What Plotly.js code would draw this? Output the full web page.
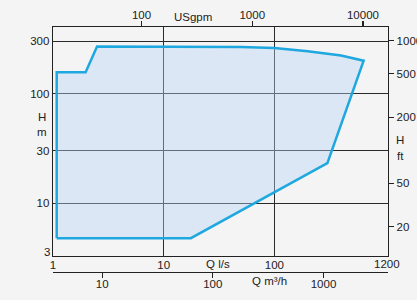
<!DOCTYPE html>
<html>
<head>
<meta charset="utf-8">
<script src="https://cdn.plot.ly/plotly-3.0.1.min.js"></script>
<style>
html,body{margin:0;padding:0;background:#f4f4f4;}
#chart{width:417px;height:300px;}
</style>
</head>
<body>
<div id="chart"></div>
<script>
// Operating range polygon (Q in l/s, H in m)
const qRange = [1.08, 1.08, 1.97, 2.5, 50, 100, 200, 400, 640, 301, 17.6, 1.08];
const hRange = [4.8, 157, 157, 270, 266, 261, 244, 223, 200, 23.2, 4.8, 4.8];

// axis extents (l/s and m)
const qMin = 1, qMax = 1062;
const hMin = 3.3, hMax = 406;

// tick labels
const qTicks = [1, 10, 100];
const m3hTicks = [10, 100, 1000, 4000];
const gpmTicks = [100, 1000, 10000];
const hTicks = [10, 30, 100, 300];
const ftTicks = [20, 50, 200, 500, 1000];

// unit conversions
const LS_TO_M3H = 3.6, LS_TO_GPM = 15.8503, M_TO_FT = 3.28084;

const W = 417, H = 300;
const M = {l: 53, r: 29, t: 27, b: 28};
const plotW = W - M.l - M.r, paperH = H - M.t - M.b;
const px = x => (x - M.l) / plotW;
const py = y => (H - M.b - y) / paperH;

const font = {family: 'Liberation Sans, Arial, sans-serif', size: 11.5, color: '#222'};
const lg = v => Math.log10(v);

const baseAx = {
  type: 'log', showgrid: false, zeroline: false, showline: true,
  linecolor: '#222', linewidth: 1.3, tickfont: font, tickcolor: '#222',
  ticklen: 5, tickwidth: 1.2, fixedrange: true
};

const layout = {
  width: W, height: H,
  margin: M,
  paper_bgcolor: '#f4f4f4', plot_bgcolor: '#f4f4f4',
  showlegend: false,
  xaxis: Object.assign({}, baseAx, {
    range: [lg(qMin), lg(qMax)], tickvals: qTicks, ticktext: qTicks.map(String),
    ticks: '', showgrid: true, gridcolor: '#2b2b2b', gridwidth: 1, anchor: 'y',
    ticklabelstandoff: -2
  }),
  xaxis2: Object.assign({}, baseAx, {
    overlaying: 'x', side: 'top', anchor: 'y',
    range: [lg(qMin * LS_TO_GPM), lg(qMax * LS_TO_GPM)],
    tickvals: gpmTicks, ticktext: gpmTicks.map(String), ticks: 'outside',
    ticklabelstandoff: -3
  }),
  xaxis3: Object.assign({}, baseAx, {
    overlaying: 'x', side: 'bottom', anchor: 'free', position: 0,
    range: [lg(qMin * LS_TO_M3H), lg(qMax * LS_TO_M3H)],
    tickvals: m3hTicks, ticktext: m3hTicks.map(String), ticks: 'outside',
    ticklabelstandoff: -4
  }),
  yaxis: Object.assign({}, baseAx, {
    domain: [py(256), 1],
    range: [lg(hMin), lg(hMax)], tickvals: hTicks, ticktext: hTicks.map(String),
    ticks: '', showgrid: true, gridcolor: '#2b2b2b', gridwidth: 1, anchor: 'x'
  }),
  yaxis2: Object.assign({}, baseAx, {
    overlaying: 'y', side: 'right', anchor: 'x',
    range: [lg(hMin * M_TO_FT), lg(hMax * M_TO_FT)],
    tickvals: ftTicks, ticktext: ftTicks.map(String), ticks: 'outside'
  }),
  annotations: [
    {text: 'H', x: px(42), y: py(117)},
    {text: 'm', x: px(42), y: py(132)},
    {text: 'H', x: px(400), y: py(140)},
    {text: 'ft', x: px(400), y: py(156)},
    {text: 'USgpm', x: px(193), y: py(17)},
    {text: 'Q l/s', x: px(218), y: py(264)},
    {text: 'Q m³/h', x: px(269), y: py(281)},
    {text: '3', x: px(47), y: py(252)},
    {text: '1200', x: px(387), y: py(264)}
  ].map(a => Object.assign({xref: 'paper', yref: 'paper', showarrow: false,
    font: font, xanchor: 'center', yanchor: 'middle'}, a))
};

const data = [
  {x: qRange, y: hRange, xaxis: 'x', yaxis: 'y', type: 'scatter', mode: 'lines',
   fill: 'toself', fillcolor: 'rgba(182,213,246,0.4)',
   line: {color: '#1fa8e0', width: 2.5}, hoverinfo: 'skip'},
  {x: [], y: [], xaxis: 'x2', yaxis: 'y', type: 'scatter', hoverinfo: 'skip'},
  {x: [], y: [], xaxis: 'x3', yaxis: 'y', type: 'scatter', hoverinfo: 'skip'},
  {x: [], y: [], xaxis: 'x', yaxis: 'y2', type: 'scatter', hoverinfo: 'skip'}
];

Plotly.newPlot('chart', data, layout, {displayModeBar: false, staticPlot: true});
</script>
</body>
</html>
